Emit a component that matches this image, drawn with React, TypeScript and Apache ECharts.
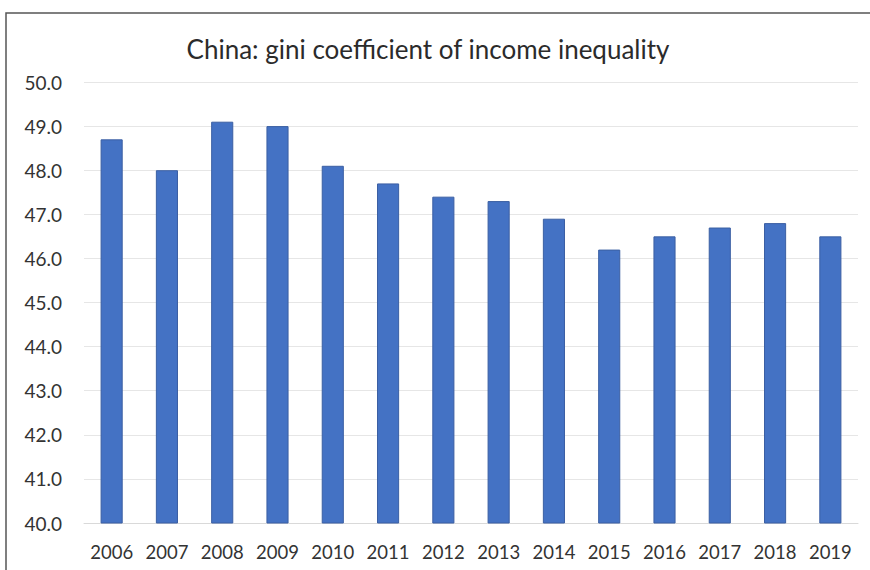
import React, { useEffect, useRef } from "react";
import * as echarts from "echarts";

const years = ["2006", "2007", "2008", "2009", "2010", "2011", "2012", "2013", "2014", "2015", "2016", "2017", "2018", "2019"];
const gini = [48.7, 48.0, 49.1, 49.0, 48.1, 47.7, 47.4, 47.3, 46.9, 46.2, 46.5, 46.7, 46.8, 46.5];
const titleText = "China: gini coefficient of income inequality";

export default function App() {
  const ref = useRef<HTMLDivElement>(null);
  useEffect(() => {
    document.body.style.margin = "0";
    const chart = echarts.init(ref.current!, null, { renderer: "svg" });
    chart.setOption({
      animation: false,
      backgroundColor: "#ffffff",
      title: {
        text: titleText,
        left: 423,
        textAlign: "center",
        top: 31,
        textStyle: { fontFamily: "Lato", fontSize: 26, fontWeight: "normal", color: "#2b2b2b" },
      },
      graphic: [
        {
          type: "rect",
          shape: { x: 6, y: 13, width: 900, height: 620 },
          style: { fill: "none", stroke: "#555555", lineWidth: 1.5 },
          silent: true,
          z: 100,
        },
      ],
      grid: { left: 84, right: 12, top: 82, bottom: 47 },
      xAxis: {
        type: "category",
        data: years,
        axisLine: { show: true, lineStyle: { color: "#d9d9d9", width: 1 } },
        axisTick: { show: false },
        axisLabel: { interval: 0, fontFamily: "Lato", fontSize: 18.5, color: "#333333", margin: 19 },
      },
      yAxis: {
        type: "value",
        min: 40,
        max: 50,
        interval: 1,
        axisLine: { show: false },
        axisTick: { show: false },
        splitLine: { lineStyle: { color: "#e6e6e6", width: 1 } },
        axisLabel: {
          fontFamily: "Lato",
          fontSize: 19,
          color: "#333333",
          margin: 22,
          formatter: (v: number) => v.toFixed(1),
        },
      },
      series: [
        {
          type: "bar",
          data: gini,
          barWidth: "40%",
          itemStyle: { color: "#4472C4", borderColor: "#3b5fa3", borderWidth: 1 },
        },
      ],
    });
    return () => chart.dispose();
  }, []);
  return <div ref={ref} style={{ width: 870, height: 570 }} />;
}
